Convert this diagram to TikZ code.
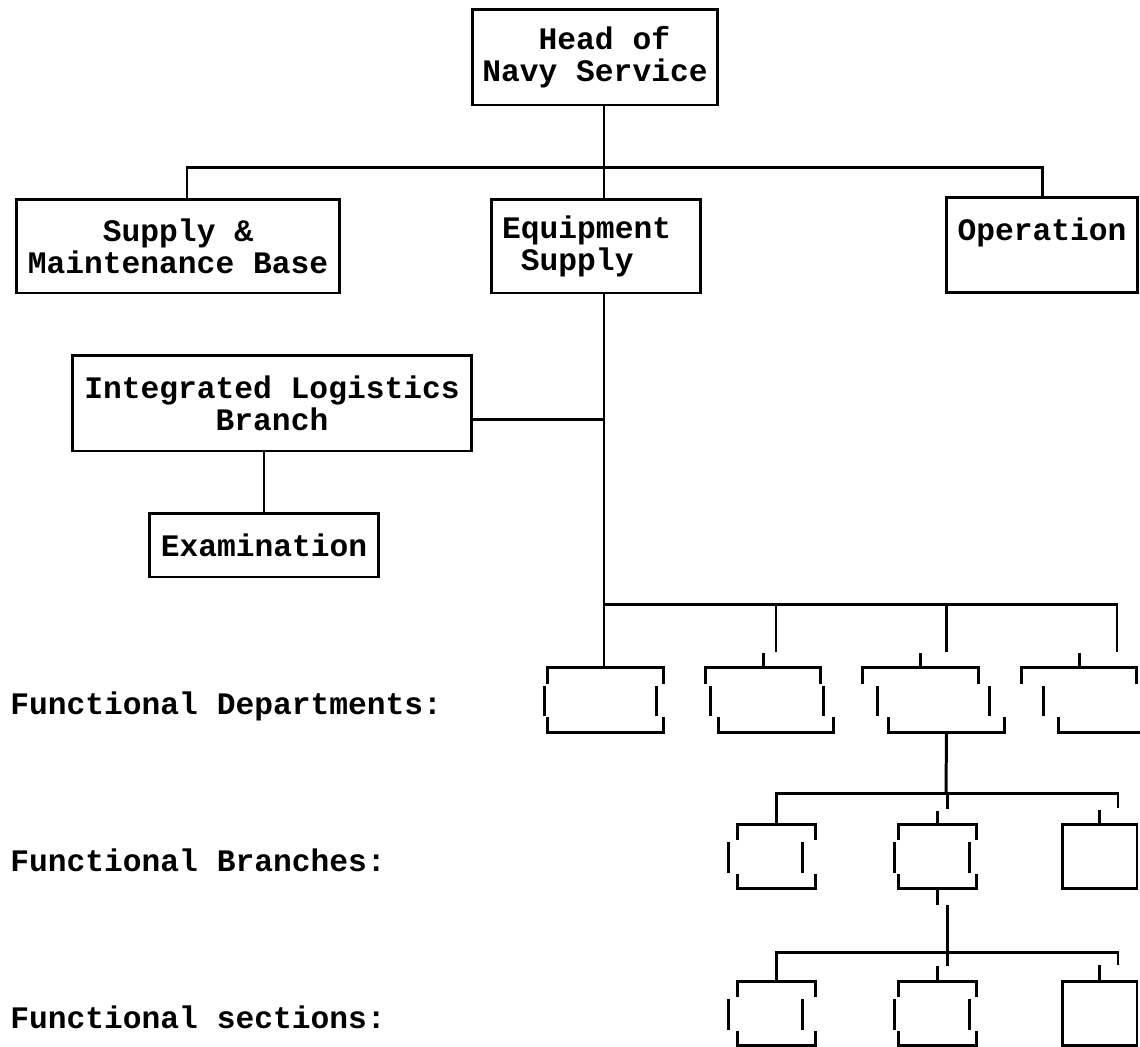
\documentclass[tikz,border=0pt]{standalone}
\usepackage{fontspec}
\setmonofont{Liberation Mono}
\usepackage{tikz}

\tikzset{
  box/.style={draw,line width=1.7pt,inner sep=0pt,align=center},
  slot/.style={inner sep=0pt,minimum width=#1,minimum height=1.27cm},
  link/.style={line width=1.7pt},
  lbl/.style={anchor=base west,inner sep=0pt},
}

% a box drawn in three broken pieces (stacked units)
\newcommand{\splitbox}[4]{%
  \draw[link] ([yshift=-0.32cm]#1.north west) -- (#1.north west) -- (#1.north east) -- ([yshift=-0.32cm]#1.north east);
  \draw[link] ([xshift=#2,yshift=-0.36cm]#1.north west) -- ([xshift=#2,yshift=0.32cm]#1.south west);
  \draw[link] ([xshift=#3,yshift=-0.36cm]#1.north east) -- ([xshift=#3,yshift=0.32cm]#1.south east);
  \draw[link] ([xshift=#4,yshift=0.3cm]#1.south west) -- ([xshift=#4]#1.south west) -- ([xshift=#4]#1.south east) -- ([xshift=#4,yshift=0.3cm]#1.south east);
}

\begin{document}
\begin{tikzpicture}[x=0.02cm,y=-0.02cm,font=\ttfamily\bfseries\fontsize{17.8pt}{18.2pt}\selectfont]
    \useasboundingbox (0,0) rectangle (1140,1046);
    \clip (0,0) rectangle (1140,1046);
    %% upper levels
    \node[box,align=left,minimum width=4.92cm,minimum height=1.92cm] (head) at (595,57) {\hphantom{xxx}Head of\\Navy Service};
    \node[box,minimum width=6.48cm,minimum height=1.88cm] (supply) at (178,246) {Supply \&\\Maintenance Base};
    \node[box,align=left,minimum width=4.18cm,minimum height=1.88cm] (equip) at (596,246) {Equipment\hphantom{x}\\\hphantom{x}Supply};
    \node[box,align=left,minimum width=3.82cm,minimum height=1.9cm] (oper) at (1042,245) {Operation\\\mbox{}};
    \node[box,minimum width=8cm,minimum height=1.92cm] (ilb) at (272,403) {Integrated Logistics\\Branch};
    \node[box,minimum width=4.6cm,minimum height=1.28cm] (exam) at (264,545) {Examination};

    \coordinate (trunk) at (604,167);
    \coordinate (ilbjoin) at (604,419);
    \coordinate (dbus) at (604,604);
    \coordinate (bbus) at (946,793);
    \coordinate (sbus) at (947,952);

    \draw[link] (head.south -| trunk) -- (trunk);
    \draw[link] ([xshift=0.18cm]supply.north) |- (trunk) -| (oper.north);
    \draw[link] (trunk) -- (equip.north -| trunk);
    \draw[link] (equip.south -| trunk) -- (dbus);
    \draw[link] (ilb.east |- ilbjoin) -- (ilbjoin);
    \draw[link] (exam.north) -- (exam.north |- ilb.south);

    %% departments
    \node[slot=2.3cm] (d1) at (605.5,700) {};
    \node[slot=2.3cm] (d2) at (763,700) {};
    \node[slot=2.3cm] (d3) at (920.5,700) {};
    \node[slot=2.3cm] (d4) at (1079,700) {};
    \splitbox{d1}{-0.06cm}{-0.14cm}{0cm}
    \splitbox{d2}{0.1cm}{0.06cm}{0.26cm}
    \splitbox{d3}{0.3cm}{0.22cm}{0.52cm}
    \splitbox{d4}{0.44cm}{0.4cm}{0.74cm}
    \draw[link] (dbus) -- (d1.north -| dbus);
    \draw[link] ([xshift=0.76cm,yshift=0.32cm]d4.north) |- (dbus);
    \draw[link] ([xshift=0.26cm,yshift=0.32cm]d2.north) |- (dbus);
    \draw[link] ([xshift=0.52cm,yshift=0.32cm]d3.north) |- (dbus);
    \foreach \n in {d2,d3,d4}
      \draw[link] (\n.north) -- ++(0,0.3cm);

    %% branches
    \node[slot=1.56cm] (b1) at (776.5,856.5) {};
    \node[slot=1.56cm] (b2) at (937.5,856.5) {};
    \node[box,slot=1.5cm] (b3) at (1099.5,856.5) {};
    \splitbox{b1}{-0.18cm}{-0.26cm}{0cm}
    \splitbox{b2}{-0.08cm}{-0.14cm}{0cm}
    \draw[link] ([xshift=0.52cm]d3.south) -- (bbus);
    \draw[link] (b1.north) |- (bbus) -| ([xshift=0.37cm,yshift=0.3cm]b3.north);
    \draw[link] ([xshift=0.19cm,yshift=0.3cm]b2.north) |- (bbus);
    \foreach \n in {b2,b3}
      \draw[link] (\n.north) -- ++(0,0.26cm);

    %% sections
    \node[slot=1.56cm] (s1) at (776.5,1013.5) {};
    \node[slot=1.56cm] (s2) at (937.5,1013.5) {};
    \node[box,slot=1.5cm] (s3) at (1099.5,1013.5) {};
    \splitbox{s1}{-0.18cm}{-0.26cm}{0cm}
    \splitbox{s2}{-0.08cm}{-0.14cm}{0cm}
    \draw[link] (b2.south) -- ++(0,-0.32cm);
    \draw[link] ([xshift=0.19cm,yshift=-0.32cm]b2.south) -- ([xshift=0.19cm,yshift=0.3cm]s2.north);
    \draw[link] (s1.north) |- (sbus) -| ([xshift=0.37cm,yshift=0.3cm]s3.north);
    \foreach \n in {s2,s3}
      \draw[link] (\n.north) -- ++(0,0.3cm);

    %% level labels
    \node[lbl] (deptlbl) at (10,714) {Functional Departments:};
    \node[lbl] (brlbl) at (10,871) {Functional Branches:};
    \node[lbl] (seclbl) at (10,1028) {Functional sections:};
\end{tikzpicture}
\end{document}
